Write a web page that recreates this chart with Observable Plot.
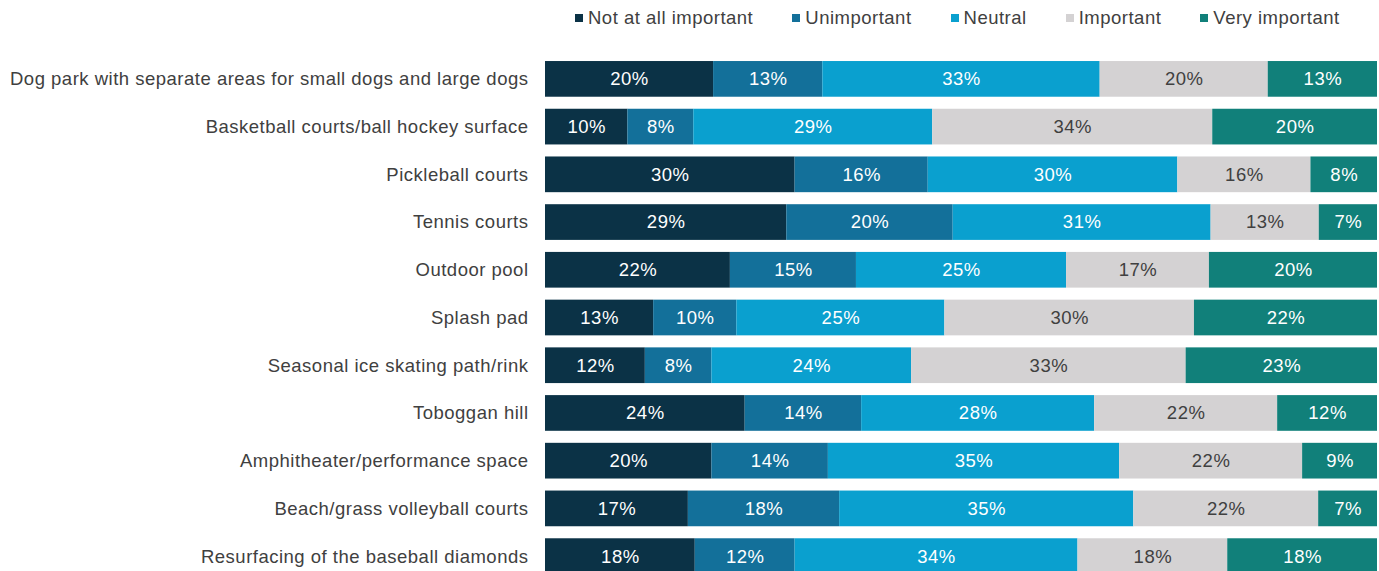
<!DOCTYPE html>
<html>
<head>
<meta charset="utf-8">
<script src="https://cdn.jsdelivr.net/npm/d3@7"></script>
<script src="https://cdn.jsdelivr.net/npm/@observablehq/plot@0.6"></script>
<style>
  html, body { margin: 0; padding: 0; background: #fff; }
  #wrap { position: relative; width: 1379px; height: 571px; overflow: hidden; font-family: "Liberation Sans", Arial, sans-serif; }
  #legend { position: absolute; top: 7px; left: 575px; display: flex; align-items: center; font-size: 18.5px; letter-spacing: 0.5px; line-height: 22px; color: #404040; white-space: nowrap; }
  #legend .item { display: flex; align-items: center; margin-right: 39px; }
  #legend .sw { width: 8px; height: 8px; margin-right: 5px; }
  #chart { position: absolute; top: 0; left: 0; }
  #chart svg text { letter-spacing: 0.5px; }
</style>
</head>
<body>
<div id="wrap">
  <div id="chart"></div>
  <div id="legend"></div>
</div>
<script>
const categories = [
  "Dog park with separate areas for small dogs and large dogs",
  "Basketball courts/ball hockey surface",
  "Pickleball courts",
  "Tennis courts",
  "Outdoor pool",
  "Splash pad",
  "Seasonal ice skating path/rink",
  "Toboggan hill",
  "Amphitheater/performance space",
  "Beach/grass volleyball courts",
  "Resurfacing of the baseball diamonds"
];
const levels = ["Not at all important", "Unimportant", "Neutral", "Important", "Very important"];
const notAtAll      = [20, 10, 30, 29, 22, 13, 12, 24, 20, 17, 18];
const unimportant   = [13,  8, 16, 20, 15, 10,  8, 14, 14, 18, 12];
const neutral       = [33, 29, 30, 31, 25, 25, 24, 28, 35, 35, 34];
const important     = [20, 34, 16, 13, 17, 30, 33, 22, 22, 22, 18];
const veryImportant = [13, 20,  8,  7, 20, 22, 23, 12,  9,  7, 18];
const colors = ["#0b3246", "#13709a", "#0aa0cf", "#d4d2d3", "#11807a"];
const labelColors = ["#ffffff", "#ffffff", "#ffffff", "#404040", "#ffffff"];

const series = [notAtAll, unimportant, neutral, important, veryImportant];
const data = [];
categories.forEach((item, i) => {
  levels.forEach((level, j) => {
    data.push({item, level, value: series[j][i], label: labelColors[j]});
  });
});

const legend = document.getElementById("legend");
levels.forEach((l, j) => {
  const it = document.createElement("div");
  it.className = "item";
  const sw = document.createElement("div");
  sw.className = "sw";
  sw.style.background = colors[j];
  it.appendChild(sw);
  const t = document.createElement("span");
  t.textContent = l;
  it.appendChild(t);
  legend.appendChild(it);
});

const stackOpts = {x: "value", y: "item", z: "level", order: levels, offset: "normalize"};
const chart = Plot.plot({
  width: 1379,
  height: 586,
  marginLeft: 545,
  marginRight: 2,
  marginTop: 49,
  marginBottom: 0,
  style: {fontFamily: "'Liberation Sans', Arial, sans-serif", fontSize: "18.5px", color: "#404040", background: "white"},
  x: {domain: [0, 1], axis: null},
  y: {domain: categories, padding: 0.252, round: false, label: null},
  color: {domain: levels, range: colors},
  marks: [
    Plot.axisY({tickSize: 0, tickPadding: 17, fontSize: 18.5, fill: "#404040"}),
    Plot.barX(data, Plot.stackX({...stackOpts, fill: "level"})),
    Plot.textX(data, Plot.stackX({...stackOpts, text: d => d.value + "%", fill: "label", fontSize: 18.5}))
  ]
});
document.getElementById("chart").appendChild(chart);
</script>
</body>
</html>
